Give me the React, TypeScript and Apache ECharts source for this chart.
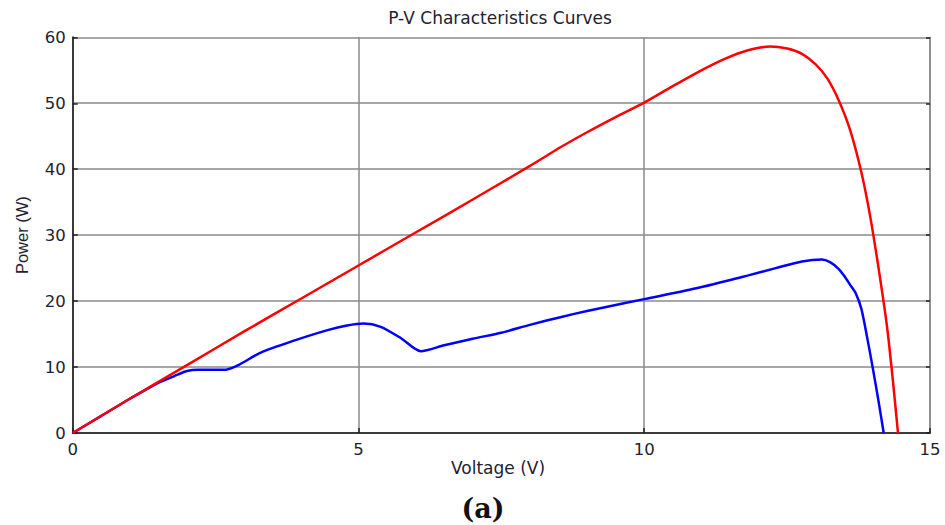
import React, { useEffect, useRef } from "react";
import * as echarts from "echarts";

const titleText = "P-V Characteristics Curves";
const xName = "Voltage (V)";
const yName = "Power (W)";
const caption = "(a)";

const redVoltage = [0, 1, 2, 3, 4, 5, 6, 7, 8, 8.55, 9, 9.5, 10, 10.5, 11, 11.4, 11.8, 12.2, 12.5, 12.76, 13.0, 13.2, 13.4, 13.6, 13.8, 13.95, 14.1, 14.25, 14.35, 14.44];
const redPower = [0, 5.2, 10.3, 15.4, 20.4, 25.4, 30.4, 35.4, 40.5, 43.4, 45.6, 47.9, 50.1, 52.6, 55.0, 56.7, 58.0, 58.6, 58.3, 57.5, 55.9, 53.8, 50.5, 46.0, 39.5, 33, 25, 16, 8, 0];

const blueVoltage = [0, 0.5, 1, 1.47, 1.77, 2.0, 2.2, 2.68, 2.9, 3.29, 3.87, 4.46, 4.8, 5.09, 5.39, 5.74, 6.09, 6.5, 7, 7.5, 8, 8.55, 9, 9.5, 10, 10.89, 11.82, 12.3, 12.76, 13.11, 13.25, 13.4, 13.5, 13.6, 13.7, 13.8, 13.9, 14.0, 14.1, 14.19];
const bluePower = [0, 2.6, 5.2, 7.5, 8.6, 9.4, 9.6, 9.6, 10.3, 12.2, 14.0, 15.6, 16.3, 16.6, 16.1, 14.4, 12.4, 13.3, 14.3, 15.2, 16.4, 17.6, 18.5, 19.4, 20.3, 21.9, 23.9, 25.0, 26.0, 26.3, 25.9, 24.9, 23.8, 22.5, 21.2, 18.8, 14.5, 9.8, 4.8, 0];

const xTicks = [0, 5, 10, 15];
const yTicks = [0, 10, 20, 30, 40, 50, 60];

export default function App() {
  const ref = useRef<HTMLDivElement>(null);
  useEffect(() => {
    if (!ref.current) return;
    const chart = echarts.init(ref.current, null, { renderer: "svg" });
    const wide = "'DejaVu Sans', Verdana, sans-serif";
    const narrow = "'Liberation Sans', Arial, sans-serif";
    const gridColor = "#8a8a8a";
    const labelColor = "#1e2230";
    chart.setOption({
      animation: false,
      backgroundColor: "#ffffff",
      grid: { left: 72.7, right: 15, top: 37.3, bottom: 92, containLabel: false },
      graphic: [
        {
          type: "text",
          x: 500,
          y: 18,
          style: {
            text: titleText,
            fontFamily: wide,
            fontSize: 17,
            fill: labelColor,
            align: "center",
            verticalAlign: "middle",
          },
        },
        {
          type: "text",
          x: 498,
          y: 468,
          style: {
            text: xName,
            fontFamily: wide,
            fontSize: 17,
            fill: labelColor,
            align: "center",
            verticalAlign: "middle",
          },
        },
        {
          type: "text",
          x: 483,
          y: 508,
          style: {
            text: caption,
            fontFamily: "'DejaVu Serif', 'Liberation Serif', serif",
            fontSize: 27,
            fontWeight: "bold",
            fill: "#111",
            align: "center",
            verticalAlign: "middle",
          },
        },
      ],
      xAxis: {
        type: "value",
        min: xTicks[0],
        max: xTicks[xTicks.length - 1],
        interval: 5,
        axisLine: { onZero: false, lineStyle: { color: "#3a3a3a", width: 2 } },
        axisTick: { inside: true, length: 5, lineStyle: { color: "#222", width: 1.5 } },
        axisLabel: { fontFamily: wide, fontSize: 16.5, color: labelColor, margin: 8 },
        splitLine: { show: true, lineStyle: { color: gridColor, width: 1.5 } },
      },
      yAxis: [
        {
          type: "value",
          min: yTicks[0],
          max: yTicks[yTicks.length - 1],
          interval: 10,
          name: yName,
          nameLocation: "middle",
          nameGap: 42,
          nameTextStyle: { fontFamily: narrow, fontSize: 16.5, color: labelColor },
          axisLine: { show: true, onZero: false, lineStyle: { color: "#3a3a3a", width: 2 } },
          axisTick: { show: true, inside: true, length: 5, lineStyle: { color: "#222", width: 1.5 } },
          axisLabel: { fontFamily: wide, fontSize: 16.5, color: labelColor, margin: 7 },
          splitLine: { show: true, lineStyle: { color: gridColor, width: 1.5 } },
        },
        {
          type: "value",
          position: "right",
          min: yTicks[0],
          max: yTicks[yTicks.length - 1],
          interval: 10,
          axisLine: { show: true, onZero: false, lineStyle: { color: gridColor, width: 1.5 } },
          axisTick: { show: true, inside: true, length: 4, lineStyle: { color: "#222", width: 1.5 } },
          axisLabel: { show: false },
          splitLine: { show: false },
        },
      ],
      series: [
        {
          type: "line",
          name: "Uniform",
          data: redVoltage.map((v, i) => [v, redPower[i]]),
          showSymbol: false,
          smooth: 0.25,
          lineStyle: { color: "#ff0000", width: 2.5 },
          z: 3,
        },
        {
          type: "line",
          name: "Shaded",
          data: blueVoltage.map((v, i) => [v, bluePower[i]]),
          showSymbol: false,
          smooth: 0.25,
          lineStyle: { color: "#0000ff", width: 2.5 },
          z: 2,
        },
      ],
    });
    return () => chart.dispose();
  }, []);
  return <div ref={ref} style={{ width: 945, height: 525, position: "fixed", left: 0, top: 0 }} />;
}
